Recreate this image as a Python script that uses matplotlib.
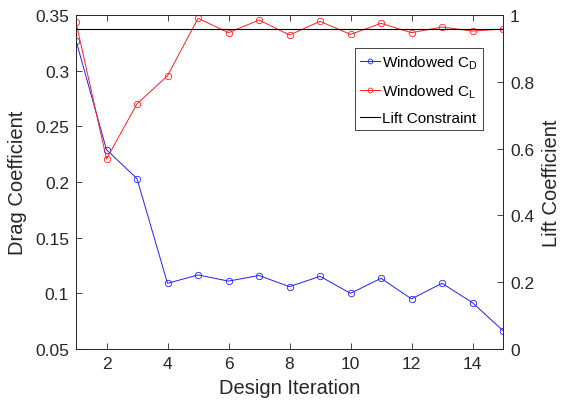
import numpy as np
import matplotlib.pyplot as plt

plt.rcParams['font.family'] = ['Liberation Sans', 'DejaVu Sans']

# windowed coefficients per design iteration
iterations = np.arange(1, 16)
drag_coeff = [0.327, 0.229, 0.203, 0.109, 0.1165, 0.111, 0.116, 0.106,
              0.1153, 0.100, 0.1135, 0.095, 0.109, 0.0916, 0.0665]
lift_coeff = [0.978, 0.569, 0.734, 0.818, 0.990, 0.947, 0.985, 0.940,
              0.981, 0.942, 0.975, 0.947, 0.964, 0.952, 0.958]
lift_target = 0.959

axis_color = '#262626'

fig = plt.figure(figsize=(5.61, 4.10), dpi=100)
ax1 = fig.add_axes([76 / 561, 60 / 410, 427 / 561, 334 / 410])
ax2 = ax1.twinx()

l1, = ax1.plot(iterations, drag_coeff, color='#2020ff', lw=0.7, marker='o',
               ms=4.6, mfc='none', mew=0.6, label=r'Windowed C$_\mathregular{D}$')
l2, = ax2.plot(iterations, lift_coeff, color='#ff2020', lw=0.7, marker='o',
               ms=4.6, mfc='none', mew=0.6, label=r'Windowed C$_\mathregular{L}$')
l3 = ax2.axhline(lift_target, color='k', lw=0.8, label='Lift Constraint')

ax1.set_xlim(1, 15)
ax1.set_ylim(0.05, 0.35)
ax2.set_ylim(0, 1)
ax1.set_xticks(range(2, 15, 2))
ax1.set_yticks(np.arange(0.05, 0.351, 0.05))
ax1.set_yticklabels(['0.05', '0.1', '0.15', '0.2', '0.25', '0.3', '0.35'])
ax2.set_yticks(np.arange(0, 1.01, 0.2))
ax2.set_yticklabels(['0', '0.2', '0.4', '0.6', '0.8', '1'])

for ax in (ax1, ax2):
    for s in ax.spines.values():
        s.set_color(axis_color)
        s.set_linewidth(0.6)
    ax.tick_params(direction='in', length=4, width=0.6, colors=axis_color,
                   labelsize=12.5, labelcolor=axis_color, pad=5)
ax1.tick_params(top=True, right=False)
ax2.tick_params(left=False, right=True)

ax1.set_xlabel('Design Iteration', fontsize=14.5, color=axis_color, labelpad=5)
ax1.set_ylabel('Drag Coefficient', fontsize=14.5, color=axis_color, labelpad=6)
ax2.set_ylabel('Lift Coefficient', fontsize=14.5, color=axis_color, labelpad=6)

leg = ax2.legend(handles=[l1, l2, l3], loc='upper right',
                 bbox_to_anchor=(0.952, 0.9), fontsize=11, markerscale=0.75,
                 handlelength=1.3, handletextpad=0.15, borderpad=0.3,
                 borderaxespad=0, labelspacing=0.75, fancybox=False,
                 framealpha=1, edgecolor=axis_color)
leg.get_frame().set_linewidth(0.6)
for t in leg.get_texts():
    t.set_color('black')

fig.savefig('out.png', dpi=100)
